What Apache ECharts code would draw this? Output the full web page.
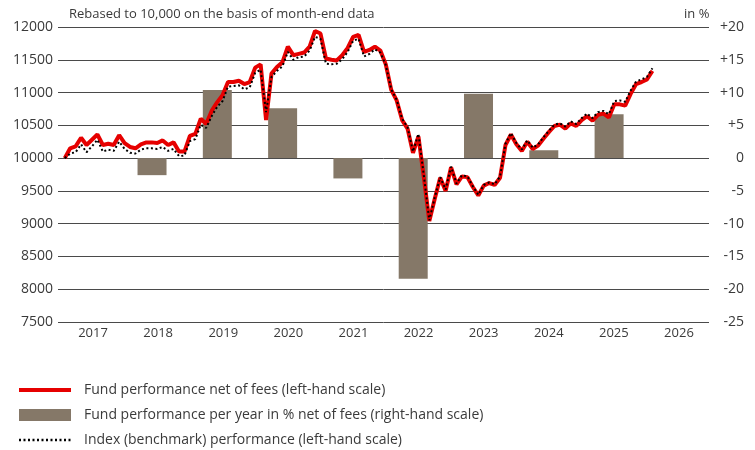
<!DOCTYPE html>
<html>
<head>
<meta charset="utf-8">
<script src="https://cdn.jsdelivr.net/npm/echarts@6/dist/echarts.min.js"></script>
<style>
  html, body { margin: 0; padding: 0; background: #fff; }
  #container { width: 755px; height: 450px; }
</style>
</head>
<body>
<div id="container"></div>
<script>
// year labels under the axis
var years = ['2017', '2018', '2019', '2020', '2021', '2022', '2023', '2024', '2025', '2026'];

// month-end values, first point Feb 2017 (rebased 10000), last Feb 2026
var startYear = 2017;
var fund = [
    10000, 10150, 10180, 10310, 10200, 10280, 10360, 10200, 10220, 10200, 10350,
    10230, 10170, 10150, 10210, 10240, 10240, 10230, 10270, 10200, 10240, 10100, 10100,
    10340, 10370, 10600, 10520, 10720, 10850, 10960, 11160, 11160, 11180, 11130, 11160,
    11380, 11430, 10580, 11290, 11390, 11460, 11700, 11570, 11590, 11610, 11700, 11940,
    11900, 11520, 11500, 11490, 11570, 11680, 11850, 11880, 11620, 11650, 11700, 11640,
    11430, 11040, 10880, 10580, 10450, 10080, 10330, 9700, 9040, 9380, 9700, 9500,
    9860, 9600, 9720, 9710, 9560, 9430, 9580, 9620, 9590, 9700, 10200, 10360,
    10210, 10110, 10250, 10140, 10190, 10300, 10400, 10490, 10510, 10450, 10530, 10490,
    10580, 10640, 10570, 10660, 10680, 10620, 10820, 10820, 10800, 10980, 11130, 11160,
    11200, 11330
];
var bench = [
    10000, 10070, 10090, 10210, 10090, 10180, 10280, 10100, 10130, 10110, 10250,
    10140, 10080, 10070, 10130, 10150, 10150, 10140, 10170, 10110, 10140, 10030, 10040,
    10260, 10290, 10510, 10460, 10640, 10780, 10870, 11090, 11100, 11110, 11050, 11080,
    11300, 11350, 10700, 11240, 11330, 11400, 11620, 11500, 11540, 11550, 11640, 11850,
    11820, 11440, 11430, 11440, 11510, 11620, 11790, 11820, 11550, 11590, 11660, 11610,
    11420, 11050, 10890, 10600, 10470, 10100, 10370, 9730, 9050, 9400, 9710, 9520,
    9870, 9610, 9740, 9720, 9570, 9440, 9590, 9630, 9600, 9720, 10220, 10380,
    10230, 10130, 10270, 10160, 10210, 10320, 10420, 10510, 10530, 10480, 10560, 10520,
    10610, 10680, 10610, 10700, 10720, 10670, 10870, 10880, 10860, 11030, 11170, 11200,
    11240, 11370
];

// calendar year performance in %
var barYears = [2018, 2019, 2020, 2021, 2022, 2023, 2024, 2025];
var barValues = [-2.6, 10.4, 7.6, -3.1, -18.4, 9.8, 1.2, 6.7];

var fundName = 'Fund performance net of fees (left-hand scale)';
var barName = 'Fund performance per year in % net of fees (right-hand scale)';
var benchName = 'Index (benchmark) performance (left-hand scale)';

var textColor = '#3a3a3a';
var fontFamily = '"Open Sans", "Noto Sans", sans-serif';

var toPoints = function (arr) {
    var out = [];
    for (var k = 0; k < arr.length; k++) {
        out.push([startYear + (k + 1) / 12, arr[k]]);
    }
    return out;
};

var barData = [];
for (var b = 0; b < barYears.length; b++) {
    barData.push([barYears[b] + 0.42, barValues[b]]);
}

var myChart = echarts.init(document.getElementById('container'), null, {renderer: 'canvas'});

var option = {
    animation: false,
    backgroundColor: '#fff',
    textStyle: {fontFamily: fontFamily, color: textColor},
    title: [
        {
            text: 'Rebased to 10,000 on the basis of month-end data',
            left: 64, top: 3,
            textStyle: {fontSize: 13, fontWeight: 'normal', color: textColor, fontFamily: fontFamily}
        },
        {
            text: 'in %',
            left: 679, top: 3,
            textStyle: {fontSize: 13, fontWeight: 'normal', color: textColor, fontFamily: fontFamily}
        }
    ],
    legend: {
        orient: 'vertical',
        left: 17,
        top: 383,
        padding: 0,
        itemWidth: 52,
        itemHeight: 12,
        itemGap: 11,
        textStyle: {fontSize: 14, color: textColor, fontFamily: fontFamily, padding: [0, 0, 0, 8]},
        data: [
            {
                name: fundName,
                itemStyle: {color: 'transparent', borderWidth: 0},
                lineStyle: {width: 4}
            },
            {name: barName, icon: 'rect'},
            {
                name: benchName,
                itemStyle: {color: 'transparent', borderWidth: 0},
                lineStyle: {width: 2.5}
            }
        ]
    },
    grid: {left: 58, right: 46, top: 27, bottom: 128},
    xAxis: [
        {
            type: 'value',
            min: 2016.98,
            max: 2026.95,
            show: false
        },
        {
            type: 'category',
            data: years,
            position: 'bottom',
            axisLine: {show: false},
            axisTick: {show: false},
            axisLabel: {fontSize: 13, color: textColor, margin: 5, padding: [0, 0, 0, 5]}
        }
    ],
    yAxis: [
        {
            type: 'value',
            min: 7500,
            max: 12000,
            interval: 500,
            axisLine: {show: false},
            axisTick: {show: false},
            axisLabel: {
                fontSize: 14, color: textColor, margin: 5,
                formatter: function (v) { return String(v); }
            },
            splitLine: {lineStyle: {color: '#4a4a4a', width: 1}}
        },
        {
            type: 'value',
            min: -25,
            max: 20,
            interval: 5,
            position: 'right',
            axisLine: {show: false},
            axisTick: {show: false},
            splitLine: {show: false},
            axisLabel: {
                fontSize: 14, color: textColor, margin: 35, align: 'right',
                formatter: function (v) { return v > 0 ? '+' + v : String(v); }
            }
        }
    ],
    series: [
        {
            name: barName,
            type: 'bar',
            xAxisIndex: 0,
            yAxisIndex: 1,
            barWidth: 29,
            itemStyle: {color: '#857868'},
            data: barData
        },
        {
            name: fundName,
            type: 'line',
            xAxisIndex: 0,
            yAxisIndex: 0,
            symbol: 'none',
            lineStyle: {color: '#e60000', width: 4},
            itemStyle: {color: '#e60000'},
            data: toPoints(fund)
        },
        {
            name: benchName,
            type: 'line',
            xAxisIndex: 0,
            yAxisIndex: 0,
            symbol: 'none',
            lineStyle: {color: '#000', width: 2, type: [2, 2.5]},
            itemStyle: {color: '#000'},
            data: toPoints(bench)
        }
    ]
};

if (option && typeof option === 'object') {
    myChart.setOption(option);
}
</script>
</body>
</html>
